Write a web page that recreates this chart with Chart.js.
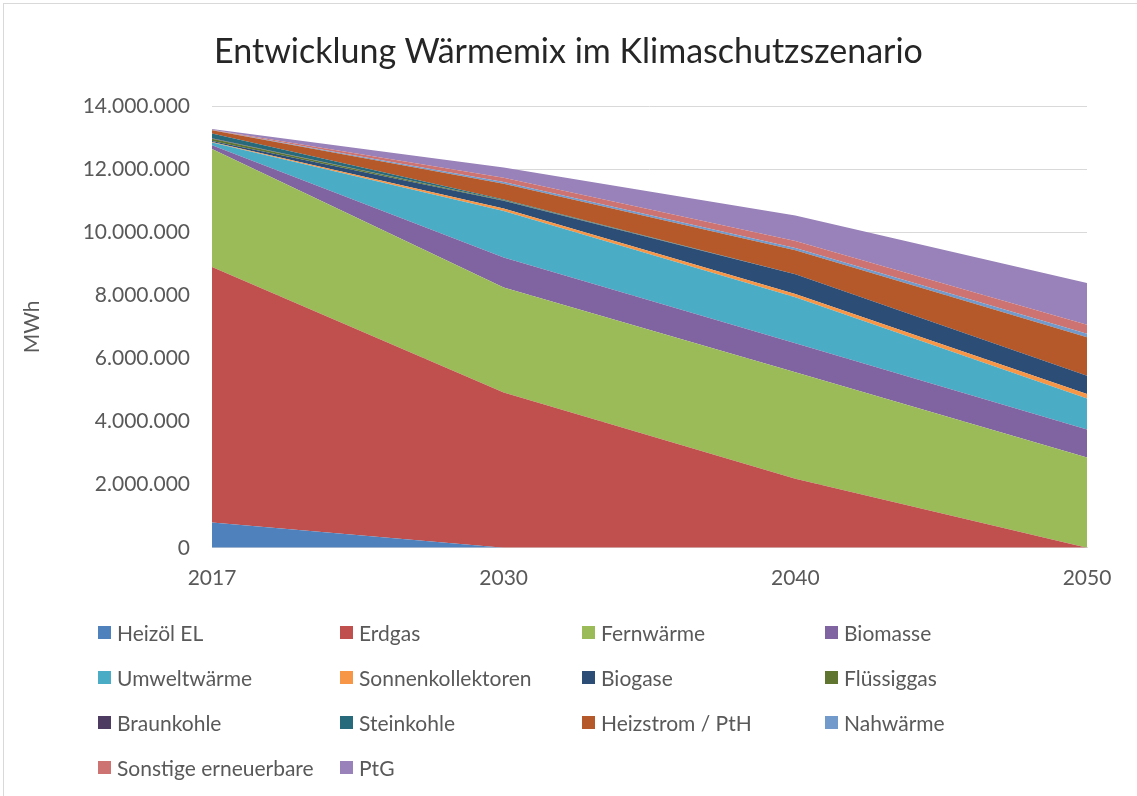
<!DOCTYPE html>
<html lang="de">
<head>
<meta charset="utf-8">
<title>Entwicklung Wärmemix im Klimaschutzszenario</title>
<script src="https://cdn.jsdelivr.net/npm/chart.js@4.4.1/dist/chart.umd.min.js"></script>
<style>
  html, body { margin: 0; padding: 0; background: #fff; }
  #wrap { position: relative; width: 1137px; height: 796px; overflow: hidden; }
  #frame { position: absolute; left: 3px; top: 3px; width: 1200px; height: 900px;
           border-left: 1px solid #d9d9d9; border-top: 1px solid #d9d9d9; }
  canvas { position: absolute; left: 0; top: 0; }
  #title { position: absolute; left: 0; top: 28px; width: 1137px; text-align: center;
           font-family: Lato, "Open Sans", sans-serif; font-size: 34px; line-height: 44px; color: #262626; }
  #legend { position: absolute; left: 98px; top: 620px; width: 1000px;
            display: grid; grid-template-columns: 242px 242px 243px 242px; grid-auto-rows: 45px;
            font-family: Lato, "Open Sans", sans-serif; font-size: 21px; color: #595959; }
  #legend .item { display: flex; align-items: center; height: 24px; white-space: nowrap; }
  #legend .box { width: 13px; height: 13px; margin-right: 6px; flex: none; }
</style>
</head>
<body>
<div id="wrap">
  <div id="frame"></div>
  <canvas id="mixChart" width="1137" height="796"></canvas>
  <div id="title">Entwicklung Wärmemix im Klimaschutzszenario</div>
  <div id="legend"></div>
</div>
<script>
const years = ['2017', '2030', '2040', '2050'];

// Wärmebedarf je Energieträger in MWh
const heizoel      = [800000, 0, 0, 0];
const erdgas       = [8100000, 4920000, 2190000, 0];
const fernwaerme   = [3740000, 3330000, 3370000, 2860000];
const biomasse     = [120000, 950000, 920000, 890000];
const umweltwaerme = [80000, 1470000, 1460000, 980000];
const sonnenkoll   = [20000, 80000, 100000, 140000];
const biogase      = [30000, 250000, 630000, 580000];
const fluessiggas  = [70000, 10000, 0, 0];
const braunkohle   = [20000, 0, 0, 0];
const steinkohle   = [150000, 30000, 0, 0];
const heizstrom    = [100000, 500000, 760000, 1220000];
const nahwaerme    = [10000, 50000, 70000, 110000];
const sonstige     = [10000, 140000, 220000, 290000];
const ptg          = [20000, 320000, 810000, 1320000];

const series = [
  ['Heizöl EL', heizoel, '#4f81bd'],
  ['Erdgas', erdgas, '#c0504d'],
  ['Fernwärme', fernwaerme, '#9bbb59'],
  ['Biomasse', biomasse, '#8064a2'],
  ['Umweltwärme', umweltwaerme, '#4bacc6'],
  ['Sonnenkollektoren', sonnenkoll, '#f79646'],
  ['Biogase', biogase, '#2c4d75'],
  ['Flüssiggas', fluessiggas, '#5f7530'],
  ['Braunkohle', braunkohle, '#4d3b62'],
  ['Steinkohle', steinkohle, '#276a7c'],
  ['Heizstrom / PtH', heizstrom, '#b5582a'],
  ['Nahwärme', nahwaerme, '#729aca'],
  ['Sonstige erneuerbare', sonstige, '#cd7371'],
  ['PtG', ptg, '#9882b9']
];

const datasets = series.map(([label, data, color], i) => ({
  label: label,
  data: data,
  backgroundColor: color,
  borderColor: color,
  borderWidth: 0,
  pointRadius: 0,
  pointHoverRadius: 0,
  tension: 0,
  fill: i === 0 ? 'origin' : '-1'
}));

const fmt = v => String(v).replace(/\B(?=(\d{3})+(?!\d))/g, '.');

const ctx = document.getElementById('mixChart').getContext('2d');
const mixChart = new Chart(ctx, {
  type: 'line',
  data: { labels: years, datasets: datasets },
  options: {
    responsive: false,
    maintainAspectRatio: false,
    animation: false,
    layout: { padding: { left: 0, right: 50, top: 106, bottom: 187 } },
    plugins: {
      legend: { display: false },
      tooltip: { enabled: false },
      title: { display: false }
    },
    scales: {
      x: {
        offset: false,
        grid: { display: false, drawTicks: false },
        border: { display: true, color: '#d9d9d9', width: 1 },
        ticks: { color: '#595959', font: { family: 'Lato', size: 21 }, padding: 18, maxRotation: 0 }
      },
      y: {
        stacked: true,
        min: 0,
        max: 14000000,
        grid: { color: '#d9d9d9', drawTicks: false },
        border: { display: false },
        ticks: { stepSize: 2000000, color: '#595959', font: { family: 'Lato', size: 21 }, padding: 22,
                 callback: v => fmt(v) },
        title: { display: true, text: 'MWh', color: '#595959', font: { family: 'Lato', size: 21 },
                 padding: { top: 20, bottom: 0 } },
        afterFit: s => { s.width = 212; }
      }
    }
  }
});

// Legende als Raster in vier Spalten
const legend = document.getElementById('legend');
series.forEach(([label, , color]) => {
  const item = document.createElement('div');
  item.className = 'item';
  const box = document.createElement('span');
  box.className = 'box';
  box.style.background = color;
  const text = document.createElement('span');
  text.textContent = label;
  item.appendChild(box);
  item.appendChild(text);
  legend.appendChild(item);
});
</script>
</body>
</html>
